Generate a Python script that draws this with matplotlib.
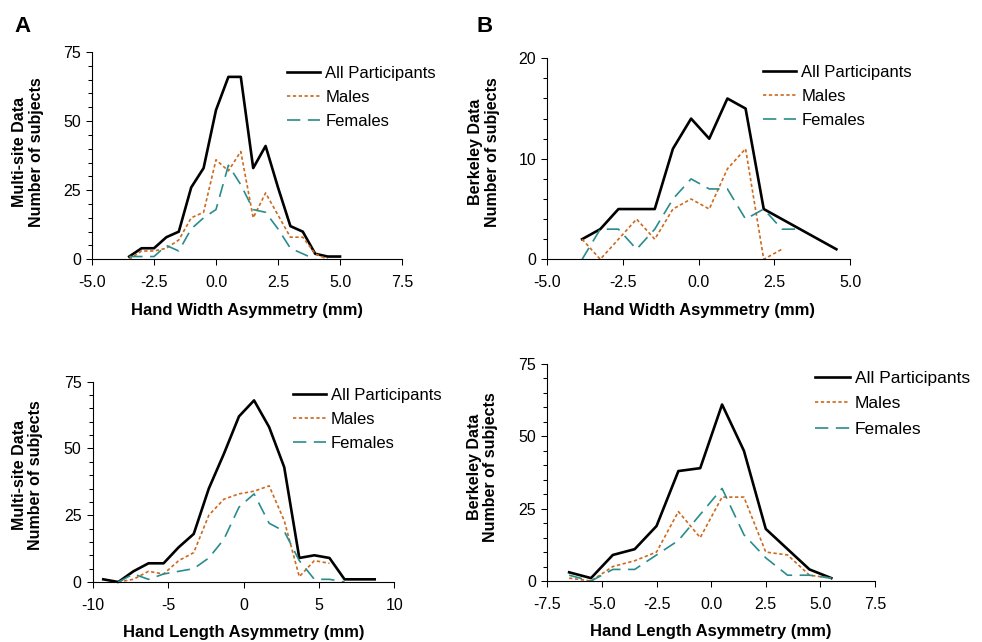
import numpy as np
import matplotlib
matplotlib.use("Agg")
import matplotlib.pyplot as plt
from matplotlib.ticker import MultipleLocator, FormatStrFormatter

plt.rcParams['font.family'] = ['Liberation Sans', 'DejaVu Sans']
plt.rcParams['axes.unicode_minus'] = False

nan = np.nan

# Panel A top: hand width, multi-site
aw_x = [-3.5, -3.0, -2.5, -2.0, -1.5, -1.0, -0.5, 0.0, 0.5, 1.0, 1.5, 2.0, 2.5, 3.0, 3.5, 4.0, 4.5, 5.0]
aw_all = [1, 4, 4, 8, 10, 26, 33, 54, 66, 66, 33, 41, 26, 12, 10, 2, 1, 1]
aw_male = [0, 3, 3, 4, 7, 15, 17, 36, 32, 39, 15, 24, 16, 8, 8, 2, 0, nan]
aw_female = [1, 1, 1, 5, 3, 11, 15, 18, 34, 27, 18, 17, 11, 4, 2, 0, nan, nan]

# Panel B top: hand width, Berkeley
bw_x = [-3.85, -3.25, -2.65, -2.05, -1.45, -0.85, -0.25, 0.35, 0.95, 1.55, 2.15, 2.75, 3.35, 3.95, 4.55]
bw_all = [2, 3, 5, 5, 5, 11, 14, 12, 16, 15, 5, 4, 3, 2, 1]
bw_male = [2, 0, 2, 4, 2, 5, 6, 5, 9, 11, 0, 1, nan, nan, nan]
bw_female = [0, 3, 3, 1, 3, 6, 8, 7, 7, 4, 5, 3, 3, nan, nan]

# Panel A bottom: hand length, multi-site
al_x = [-9.3, -8.3, -7.3, -6.3, -5.3, -4.3, -3.3, -2.3, -1.3, -0.3, 0.7, 1.7, 2.7, 3.7, 4.7, 5.7, 6.7, 7.7, 8.7]
al_all = [1, 0, 4, 7, 7, 13, 18, 35, 48, 62, 68, 58, 43, 9, 10, 9, 1, 1, 1]
al_male = [nan, 0, 1, 4, 3, 8, 11, 25, 31, 33, 34, 36, 23, 2, 8, 7, nan, nan, nan]
al_female = [nan, 0, 3, 1, 3, 4, 5, 9, 16, 28, 33, 22, 19, 8, 1, 1, 0, nan, nan]

# Panel B bottom: hand length, Berkeley
bl_x = [-6.5, -5.5, -4.5, -3.5, -2.5, -1.5, -0.5, 0.5, 1.5, 2.5, 3.5, 4.5, 5.5]
bl_all = [3, 1, 9, 11, 19, 38, 39, 61, 45, 18, 11, 4, 1]
bl_male = [1, 0, 5, 7, 10, 24, 15, 29, 29, 10, 9, 2, 1]
bl_female = [2, 0, 4, 4, 9, 14, 23, 32, 16, 8, 2, 2, 1]

labels = ['All Participants', 'Males', 'Females']
ORANGE = '#CC6A1E'
TEAL = '#2A8C8C'

W, H = 982, 642
fig = plt.figure(figsize=(W / 100, H / 100), dpi=100)


def px_axes(left, top, right, bottom):
    return fig.add_axes([left / W, 1 - bottom / H, (right - left) / W, (bottom - top) / H])


def draw(ax, x, all_, male, female, xlim, xstep, xfmt, ylim, ymajor, yminor,
         xlabel, ylabel, ylabel_pos, leg_pos, leg_size=12, leg_space=0.54):
    ax.plot(x, all_, color='black', lw=1.9, clip_on=False, label=labels[0])
    ax.plot(x, male, color=ORANGE, lw=1.2, ls=(0, (2, 1.5)), clip_on=False, label=labels[1])
    ax.plot(x, female, color=TEAL, lw=1.2, ls=(0, (8, 4.5)), clip_on=False, label=labels[2])
    ax.set_xlim(*xlim)
    ax.set_ylim(*ylim)
    ax.xaxis.set_major_locator(MultipleLocator(xstep))
    ax.xaxis.set_major_formatter(FormatStrFormatter(xfmt))
    ax.yaxis.set_major_locator(MultipleLocator(ymajor))
    ax.yaxis.set_minor_locator(MultipleLocator(yminor))
    for s in ['top', 'right']:
        ax.spines[s].set_visible(False)
    for s in ['left', 'bottom']:
        ax.spines[s].set_linewidth(0.8)
    ax.tick_params(which='major', direction='out', length=4, width=0.75, labelsize=11.5)
    ax.tick_params(axis='x', which='major', pad=7.5)
    ax.tick_params(axis='y', which='major', pad=4)
    ax.tick_params(which='minor', direction='out', length=3, width=0.75)
    ax.set_xlabel(xlabel, fontsize=12, fontweight='bold', labelpad=9)
    fig.text(ylabel_pos[0] / W, 1 - ylabel_pos[1] / H, ylabel, rotation=90,
             ha='center', va='center', multialignment='center',
             fontsize=11.5, fontweight='bold', linespacing=1.15)
    ax.legend(loc='upper left', bbox_to_anchor=(leg_pos[0] / W, 1 - leg_pos[1] / H),
              bbox_transform=fig.transFigure, frameon=False, fontsize=leg_size,
              handlelength=2.0, handletextpad=0.3, labelspacing=leg_space,
              borderpad=0, borderaxespad=0)


ax1 = px_axes(92, 52, 402, 259.3)
draw(ax1, aw_x, aw_all, aw_male, aw_female, (-5, 7.5), 2.5, '%.1f', (0, 75), 25, 5,
     'Hand Width Asymmetry (mm)', 'Multi-site Data\nNumber of subjects', (28, 152), (287, 66))

ax2 = px_axes(547.3, 58.3, 850, 259.3)
draw(ax2, bw_x, bw_all, bw_male, bw_female, (-5, 5), 2.5, '%.1f', (0, 20), 10, 2,
     'Hand Width Asymmetry (mm)', 'Berkeley Data\nNumber of subjects', (484, 152), (763, 64.6))

ax3 = px_axes(92.7, 381.7, 394.3, 582)
draw(ax3, al_x, al_all, al_male, al_female, (-10, 10), 5, '%d', (0, 75), 25, 5,
     'Hand Length Asymmetry (mm)', 'Multi-site Data\nNumber of subjects', (27.5, 475), (292.7, 388))

ax4 = px_axes(547.3, 364, 875, 581)
draw(ax4, bl_x, bl_all, bl_male, bl_female, (-7.5, 7.5), 2.5, '%.1f', (0, 75), 25, 5,
     'Hand Length Asymmetry (mm)', 'Berkeley Data\nNumber of subjects', (482.5, 467), (815, 370.5),
     leg_size=12.5, leg_space=0.61)

fig.text(14 / W, 1 - 32 / H, 'A', fontsize=16, fontweight='bold', va='baseline')
fig.text(476 / W, 1 - 32 / H, 'B', fontsize=16, fontweight='bold', va='baseline')

fig.savefig('out.png', dpi=100)
